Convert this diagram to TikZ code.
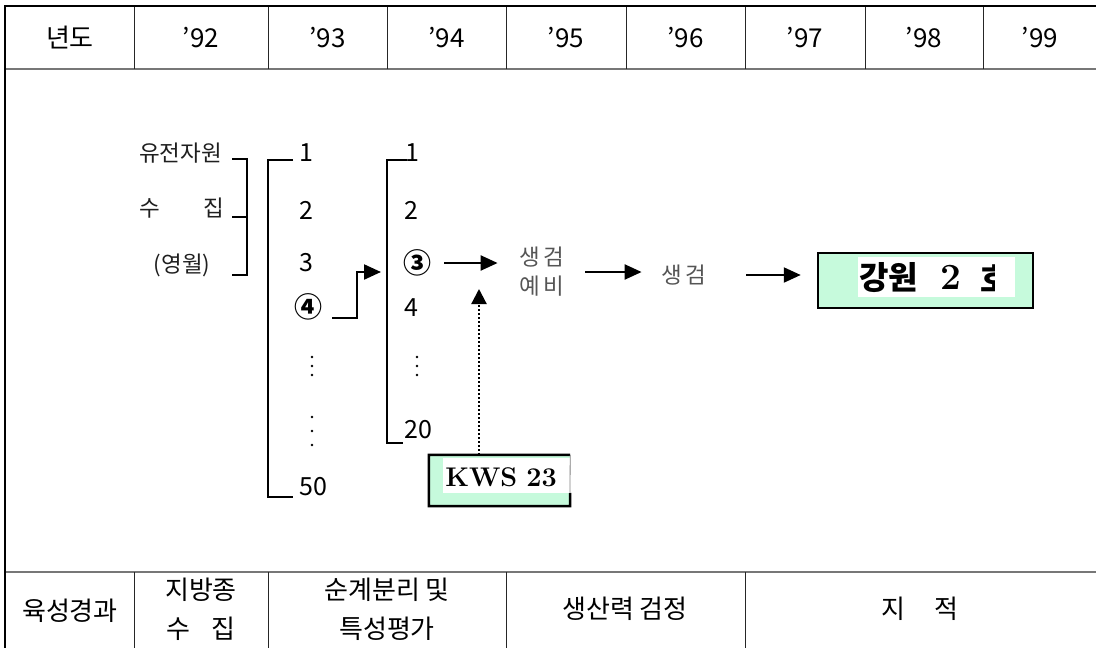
\documentclass[tikz,border=0pt]{standalone}
\usepackage{fontspec}
\newfontfamily\kr{Noto Sans CJK KR}
\usetikzlibrary{arrows.meta}
\definecolor{mint}{HTML}{C6FADC}
\definecolor{rowgray}{HTML}{777777}
\definecolor{txtgray}{HTML}{555555}
\tikzset{
  frame/.style={line width=2.5pt, black},
  rowline/.style={line width=1.8pt, rowgray},
  coldiv/.style={line width=1pt, black!85},
  brk/.style={line width=2.5pt, black},
  arr/.style={line width=2.2pt, -{Triangle[length=17pt,width=15pt]}},
  dotarr/.style={line width=2.2pt, dash pattern=on 2pt off 2pt, -{Triangle[length=15pt,width=15pt]}},
  hd/.style={font=\kr\fontsize{26}{30}\selectfont, inner sep=0},
  lbl/.style={font=\kr\fontsize{22.5}{26}\selectfont, inner sep=0, text=black!88},
  num/.style={font=\kr\fontsize{25}{28}\selectfont, inner sep=0, anchor=west},
  circ/.style={font=\kr\bfseries\fontsize{28}{30}\selectfont, inner sep=0, anchor=west},
  gtx/.style={font=\kr\fontsize{22.5}{29}\selectfont, text=txtgray, inner sep=0, align=center},
  dotc/.style={fill=black},
}
\begin{document}
\begin{tikzpicture}[x=1pt,y=-1pt]
\useasboundingbox (0,0) rectangle (1096,648);
\fill[white] (0,0) rectangle (1096,648);

% ---- table frame ----
\draw[rowline] (5,69) -- (1096,69);
\draw[rowline] (5,572) -- (1096,572);
\foreach \x in {134,268,387,506,626,745,865,983} \draw[coldiv] (\x,6) -- (\x,69);
\foreach \x in {134,268,506,745} \draw[coldiv] (\x,572) -- (\x,648);
\draw[frame] (1096,6) -- (5,6) -- (5,648);

% ---- header row ----
\foreach \x/\t/\n in {70/년도/h0, 201/’92/h1, 327.5/’93/h2, 446.5/’94/h3, 566/’95/h4,
  685.5/’96/h5, 805/’97/h6, 924/’98/h7, 1040/’99/h8}
  \node[hd] (\n) at (\x,38) {\t};

% ---- bottom row ----
\node[hd] (f0) at (70,611) {육성경과};
\node[hd] (f1a) at (201,590) {지방종};
\node[hd] (f1b) at (201,629) {수\hspace{22pt}집};
\node[hd] (f2a) at (387,590) {순계분리 및};
\node[hd] (f2b) at (387,629) {특성평가};
\node[hd] (f3) at (625,609) {생산력 검정};
\node[hd] (f4) at (920,609) {지\hspace{30pt}적};

% ---- left labels and bracket ----
\node[lbl,anchor=west] (yj) at (139,153) {유전자원};
\node[lbl,anchor=west] (sj) at (139,208) {수\hspace{44pt}집};
\node[lbl] (yw) at (182,265) {(영월)};
\coordinate (ba1) at (232,159);
\coordinate (ba2) at (232,217);
\coordinate (ba3) at (232,275);
\draw[brk] (ba1) -- ++(15,0) -- (247,275) -- (ba3);
\draw[brk] (ba2) -- ++(15,0);

% ---- bracket of 50 lines ----
\coordinate (bb1) at (293,160);
\coordinate (bb2) at (293,497);
\draw[brk] (bb1) -- (268,160) -- (268,497) -- (bb2);
\node[num] (a1) at (299,153) {1};
\node[num] (a2) at (299,210) {2};
\node[num] (a3) at (299,263) {3};
\node[circ] (a4) at (294,307) {④};
\node[num] (a50) at (299,487) {50};
\foreach \y in {357,366,375,417,431,445} \fill[dotc] (312,\y) circle (1.4);

% ---- bracket of 20 lines ----
\coordinate (bc1) at (407,160);
\coordinate (bc2) at (403,443);
\draw[brk] (bc1) -- (387,160) -- (387,443) -- (bc2);
\node[num] (b1) at (405,153) {1};
\node[num] (b2) at (404,210) {2};
\node[circ] (b3) at (403,263) {③};
\node[num] (b4) at (404,308) {4};
\node[num] (b20) at (404,430) {20};
\foreach \y in {357,366,375} \fill[dotc] (417,\y) circle (1.4);

% ---- connector from 4 to the second bracket ----
\coordinate (c4s) at (332,318);
\coordinate (c4t) at (381,272);
\draw[arr] (c4s) -- (357,318) |- (c4t);

% ---- chain ----
\node[gtx] (sy) at (542,272) {생\kern3pt 검\\예\kern3pt 비};
\node[gtx] (sg) at (684,275) {생\kern3pt 검};
\node[fill=mint, draw=black, line width=2.5pt, minimum width=215pt, minimum height=55pt, inner sep=0] (gw) at (925.5,280.5) {};
\fill[white] (858,257) rectangle (1015,297);
\node[font=\kr\bfseries\fontsize{32}{34}\selectfont, inner sep=0, anchor=west] (gwt) at (859,278) {강원};
\node[font=\rmfamily\bfseries\fontsize{37}{40}\selectfont, inner sep=0] (gw2) at (951,277) {2};
\begin{scope}
  \clip (978,257) rectangle (994,297);
  \node[font=\kr\bfseries\fontsize{32}{34}\selectfont, inner sep=0, anchor=west] (gwh) at (980,278) {호};
\end{scope}

\draw[arr, shorten <=13pt, shorten >=22pt] (b3.east) -- (b3.east -| sy.west);
\draw[arr, shorten <=21pt, shorten >=20pt] (sy.east) -- (sy.east -| sg.west);
\draw[arr, shorten <=40pt, shorten >=16pt] (sg.east) -- (sg.east -| gw.west);

% ---- KWS 23 box ----
\node[fill=mint, minimum width=141pt, minimum height=51pt, inner sep=0] (kwsb) at (499.5,480.5) {};
\fill[white] (443,458) rectangle (570,493);
\draw[line width=2.5pt] (kwsb.north east) -- (kwsb.north west) -- (kwsb.south west) -- (kwsb.south east) -- (570,493);
\draw[line width=0.8pt, gray] (kwsb.north east) -- (570,493);
\node[font=\rmfamily\bfseries\fontsize{27}{30}\selectfont, inner sep=0] (kws) at (501,477) {KWS\hspace{9pt}23};
\coordinate (dtip) at (479,289);
\draw[dotarr] (dtip |- kwsb.north) -- (dtip);
\end{tikzpicture}
\end{document}
